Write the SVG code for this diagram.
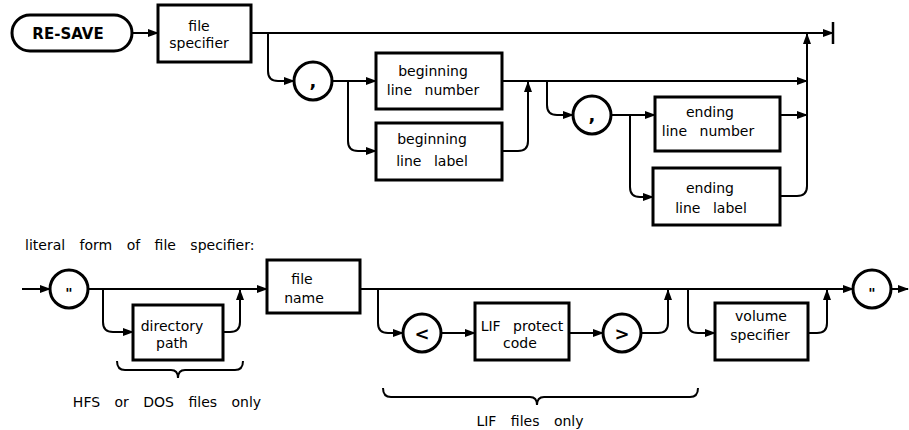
<svg xmlns="http://www.w3.org/2000/svg" width="909" height="430" viewBox="0 0 909 430">
<style>
.box{fill:#fff;stroke:#000;stroke-width:3}
.cir{fill:#fff;stroke:#000;stroke-width:3}
.ln{fill:none;stroke:#000;stroke-width:2}
.t{font-family:"DejaVu Sans",sans-serif;font-size:14px;text-anchor:middle;word-spacing:8px;fill:#000}
.s{font-family:"DejaVu Sans",sans-serif;font-size:14px;word-spacing:10px;fill:#000}
.sym{font-family:"DejaVu Sans",sans-serif;font-size:18px;font-weight:bold;text-anchor:middle;fill:#000}
.kw{font-family:"DejaVu Sans",sans-serif;font-size:15px;font-weight:bold;text-anchor:middle;fill:#000}
</style>
<defs>
<marker id="a" markerWidth="11" markerHeight="8" refX="10" refY="4" orient="auto" markerUnits="userSpaceOnUse"><path d="M0,0 L11,4 L0,8 z" fill="#000"/></marker>
</defs>
<g id="connectors">
<path class="ln" d="M132,33 H158" marker-end="url(#a)"/>
<path class="ln" d="M251,33 H833" marker-end="url(#a)"/>
<path d="M833,22 V44" stroke="#000" stroke-width="2.5"/>
<path class="ln" d="M268,33 V71 Q268,81 278,81 H294" marker-end="url(#a)"/>
<path class="ln" d="M332,81 H376" marker-end="url(#a)"/>
<path class="ln" d="M348,81 V141 Q348,151 358,151 H376" marker-end="url(#a)"/>
<path class="ln" d="M502,151 H518 Q528,151 528,141 V82" marker-end="url(#a)"/>
<path class="ln" d="M502,81 H807" marker-end="url(#a)"/>
<path class="ln" d="M547,81 V105 Q547,115 557,115 H573" marker-end="url(#a)"/>
<path class="ln" d="M611,115 H655" marker-end="url(#a)"/>
<path class="ln" d="M630,115 V187 Q630,197 640,197 H653" marker-end="url(#a)"/>
<path class="ln" d="M780,115 H807" marker-end="url(#a)"/>
<path class="ln" d="M780,196 H797 Q807,196 807,186 V34" marker-end="url(#a)"/>
<path class="ln" d="M22,289 H50" marker-end="url(#a)"/>
<path class="ln" d="M88,289 H267" marker-end="url(#a)"/>
<path class="ln" d="M103,289 V322 Q103,332 113,332 H133" marker-end="url(#a)"/>
<path class="ln" d="M223,332 H230 Q240,332 240,322 V290" marker-end="url(#a)"/>
<path class="ln" d="M360,289 H853" marker-end="url(#a)"/>
<path class="ln" d="M378,289 V323 Q378,333 388,333 H403" marker-end="url(#a)"/>
<path class="ln" d="M441,333 H475" marker-end="url(#a)"/>
<path class="ln" d="M569,333 H603" marker-end="url(#a)"/>
<path class="ln" d="M641,333 H658 Q668,333 668,323 V290" marker-end="url(#a)"/>
<path class="ln" d="M688,289 V323 Q688,333 698,333 H715" marker-end="url(#a)"/>
<path class="ln" d="M808,333 H817 Q827,333 827,323 V290" marker-end="url(#a)"/>
<path class="ln" d="M891,289 H908" marker-end="url(#a)"/>
</g>
<g id="re-save"><rect class="box" x="12" y="15" width="120" height="36" rx="18"/><text class="kw" x="68" y="39">RE-SAVE</text></g>
<g id="file-specifier"><rect class="box" x="158" y="5" width="93" height="57"/><text class="t" x="199" y="31">file</text><text class="t" x="199" y="48">specifier</text></g>
<g id="comma1"><circle class="cir" cx="313" cy="81" r="19"/><text class="sym" x="313" y="87">,</text></g>
<g id="beginning-line-number"><rect class="box" x="376" y="53" width="126" height="56"/><text class="t" x="433" y="76">beginning</text><text class="t" x="433" y="95">line number</text></g>
<g id="beginning-line-label"><rect class="box" x="376" y="123" width="126" height="57"/><text class="t" x="432" y="144">beginning</text><text class="t" x="432" y="166">line label</text></g>
<g id="comma2"><circle class="cir" cx="592" cy="115" r="19"/><text class="sym" x="592" y="121">,</text></g>
<g id="ending-line-number"><rect class="box" x="655" y="97" width="125" height="54"/><text class="t" x="710" y="117">ending</text><text class="t" x="708" y="136">line number</text></g>
<g id="ending-line-label"><rect class="box" x="653" y="168" width="127" height="57"/><text class="t" x="710" y="193">ending</text><text class="t" x="711" y="213">line label</text></g>
<text class="s" x="25" y="250">literal form of file specifier:</text>
<g id="quote-open"><circle class="cir" cx="69" cy="289" r="19"/><text class="sym" x="69" y="298" style="font-size:14px">"</text></g>
<g id="directory-path"><rect class="box" x="133" y="305" width="90" height="55"/><text class="t" x="172" y="331">directory</text><text class="t" x="172" y="348">path</text></g>
<g id="file-name"><rect class="box" x="267" y="260" width="93" height="53"/><text class="t" x="302" y="284">file</text><text class="t" x="304" y="303">name</text></g>
<g id="lt"><circle class="cir" cx="422" cy="333" r="19"/><text class="sym" x="422" y="340">&lt;</text></g>
<g id="lif-protect-code"><rect class="box" x="475" y="303" width="94" height="57"/><text class="t" x="522" y="331">LIF protect</text><text class="t" x="520" y="348">code</text></g>
<g id="gt"><circle class="cir" cx="622" cy="333" r="19"/><text class="sym" x="622" y="340">&gt;</text></g>
<g id="volume-specifier"><rect class="box" x="715" y="303" width="93" height="57"/><text class="t" x="761" y="321">volume</text><text class="t" x="760" y="340">specifier</text></g>
<g id="quote-close"><circle class="cir" cx="872" cy="289" r="19"/><text class="sym" x="872" y="298" style="font-size:14px">"</text></g>
<g id="annotations">
<path class="ln" d="M117,361 Q117,370 125,370 H171 Q178,370 178,378 Q178,370 185,370 H235 Q243,370 243,361"/>
<text class="s" x="167" y="407" style="text-anchor:middle">HFS or DOS files only</text>
<path class="ln" d="M383,388 Q383,397 391,397 H530 Q537,397 537,405 Q537,397 544,397 H690 Q698,397 698,388"/>
<text class="s" x="530" y="426" style="text-anchor:middle">LIF files only</text>
</g>
</svg>
